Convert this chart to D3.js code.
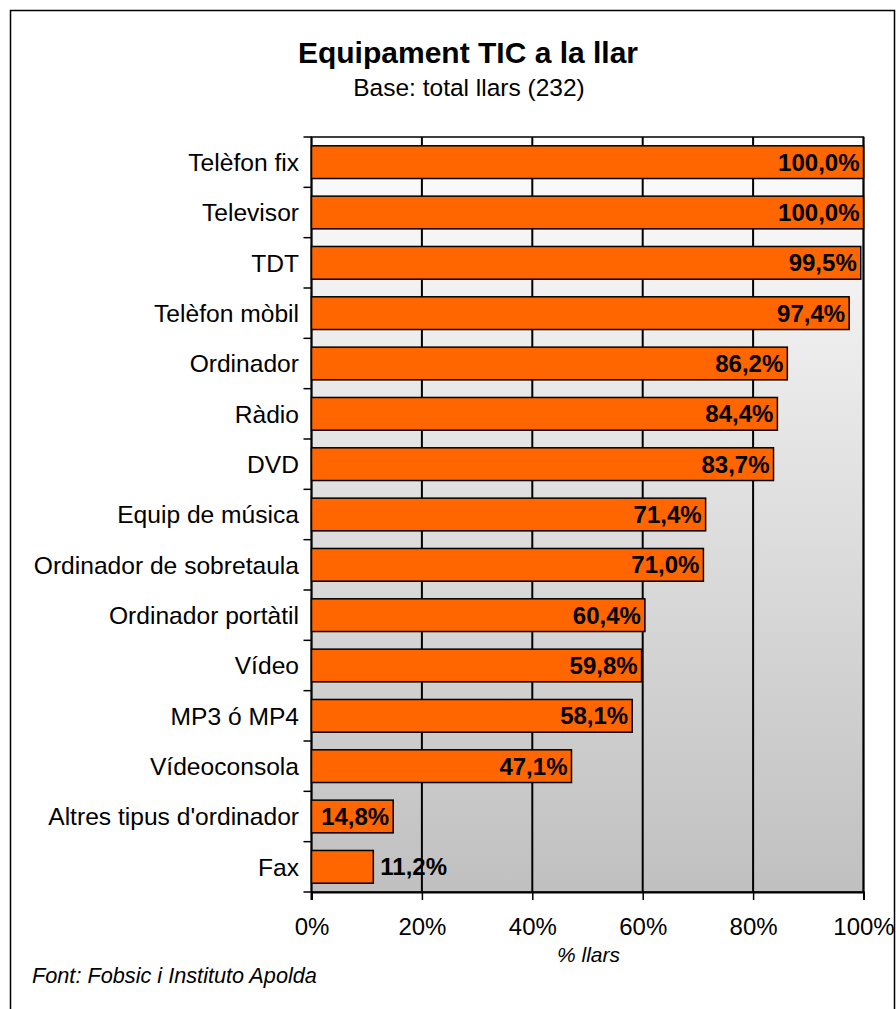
<!DOCTYPE html>
<html>
<head>
<meta charset="utf-8">
<script src="https://cdn.jsdelivr.net/npm/d3@7"></script>
<style>
  html, body { margin: 0; padding: 0; background: #fff; }
  svg { display: block; font-family: Arial, "Liberation Sans", sans-serif; }
</style>
</head>
<body>
<svg id="chart" width="896" height="1009"></svg>
<script>
const categories = [
  "Telèfon fix", "Televisor", "TDT", "Telèfon mòbil", "Ordinador", "Ràdio", "DVD",
  "Equip de música", "Ordinador de sobretaula", "Ordinador portàtil", "Vídeo",
  "MP3 ó MP4", "Vídeoconsola", "Altres tipus d'ordinador", "Fax"
];
const values = [100.0, 100.0, 99.5, 97.4, 86.2, 84.4, 83.7, 71.4, 71.0, 60.4, 59.8, 58.1, 47.1, 14.8, 11.2];
const xTicks = [0, 20, 40, 60, 80, 100];
const titleText = "Equipament TIC a la llar";
const subtitleText = "Base: total llars (232)";
const xAxisTitle = "% llars";
const sourceText = "Font: Fobsic i Instituto Apolda";

const data = categories.map((c, i) => ({ cat: c, val: values[i] }));
const svg = d3.select("#chart");

// outer frame
svg.append("rect").attr("x", 10.5).attr("y", 10.5).attr("width", 884).attr("height", 1010)
  .attr("fill", "#fff").attr("stroke", "#000").attr("stroke-width", 1.5);

const plot = { left: 311.5, right: 863.5, top: 137, bottom: 892 };

const x = d3.scaleLinear().domain([0, 100]).range([plot.left, plot.right]);
const y = d3.scaleBand().domain(categories).range([plot.top, plot.bottom])
  .paddingInner(0.35).paddingOuter(0.175);

// gradient background
const defs = svg.append("defs");
const grad = defs.append("linearGradient").attr("id", "bg").attr("x1", 0).attr("y1", 0).attr("x2", 0).attr("y2", 1);
grad.append("stop").attr("offset", "0%").attr("stop-color", "#fdfdfd");
grad.append("stop").attr("offset", "100%").attr("stop-color", "#c0c0c0");

svg.append("rect").attr("x", plot.left).attr("y", plot.top)
  .attr("width", plot.right - plot.left).attr("height", plot.bottom - plot.top)
  .attr("fill", "url(#bg)").attr("stroke", "#000").attr("stroke-width", 1.5);

// gridlines
svg.append("g").selectAll("line").data(xTicks.slice(1)).join("line")
  .attr("x1", d => x(d)).attr("x2", d => x(d))
  .attr("y1", plot.top).attr("y2", plot.bottom)
  .attr("stroke", "#000").attr("stroke-width", 2);

// x axis
const xAxis = svg.append("g").attr("transform", `translate(0,${plot.bottom})`)
  .call(d3.axisBottom(x).tickValues(xTicks).tickFormat(d => d + "%").tickSize(8).tickPadding(18));
xAxis.select(".domain").attr("stroke", "#000").attr("stroke-width", 2);
xAxis.selectAll(".tick line").attr("stroke", "#000").attr("stroke-width", 1.5);
xAxis.selectAll(".tick text").attr("font-size", 24).attr("fill", "#000")
  .attr("font-family", "Arial, 'Liberation Sans', sans-serif");

// y axis: ticks at band boundaries
const bounds = categories.map(c => y(c) - y.step() * y.paddingInner() / 2);
bounds.push(plot.bottom);
svg.append("g").selectAll("line").data(bounds).join("line")
  .attr("x1", plot.left - 8).attr("x2", plot.left)
  .attr("y1", d => d).attr("y2", d => d)
  .attr("stroke", "#000").attr("stroke-width", 1.5);
svg.append("line").attr("x1", plot.left).attr("x2", plot.left)
  .attr("y1", plot.top).attr("y2", plot.bottom + 8)
  .attr("stroke", "#000").attr("stroke-width", 2);

svg.append("g").selectAll("text").data(categories).join("text")
  .attr("x", 299).attr("y", d => y(d) + y.bandwidth() / 2 + 8.7)
  .attr("text-anchor", "end").attr("font-size", 24.6).attr("fill", "#000")
  .text(d => d);

// bars
svg.append("g").selectAll("rect").data(data).join("rect")
  .attr("x", x(0)).attr("y", d => y(d.cat))
  .attr("width", d => x(d.val) - x(0)).attr("height", y.bandwidth())
  .attr("fill", "#ff6600").attr("stroke", "#000").attr("stroke-width", 1.5);

// value labels
const fmt = v => v.toFixed(1).replace(".", ",") + "%";
const labels = svg.append("g").selectAll("text").data(data).join("text")
  .attr("y", d => y(d.cat) + y.bandwidth() / 2 + 8.6)
  .attr("font-size", 24).attr("font-weight", "bold").attr("fill", "#000")
  .text(d => fmt(d.val));
labels.each(function(d) {
  const w = this.getComputedTextLength();
  const barW = x(d.val) - x(0);
  const t = d3.select(this);
  if (w + 8 <= barW) {
    t.attr("x", x(d.val) - 4).attr("text-anchor", "end");
  } else {
    t.attr("x", x(d.val) + 7).attr("text-anchor", "start");
  }
});

// titles
svg.append("text").attr("x", 468).attr("y", 63).attr("text-anchor", "middle")
  .attr("font-size", 30).attr("font-weight", "bold").attr("fill", "#000").text(titleText);
svg.append("text").attr("x", 469).attr("y", 96).attr("text-anchor", "middle")
  .attr("font-size", 24.5).attr("fill", "#000").text(subtitleText);

svg.append("text").attr("x", 588.5).attr("y", 962).attr("text-anchor", "middle")
  .attr("font-size", 21).attr("font-style", "italic").attr("fill", "#000").text(xAxisTitle);
svg.append("text").attr("x", 32).attr("y", 983)
  .attr("font-size", 21.7).attr("font-style", "italic").attr("fill", "#000").text(sourceText);
</script>
</body>
</html>
